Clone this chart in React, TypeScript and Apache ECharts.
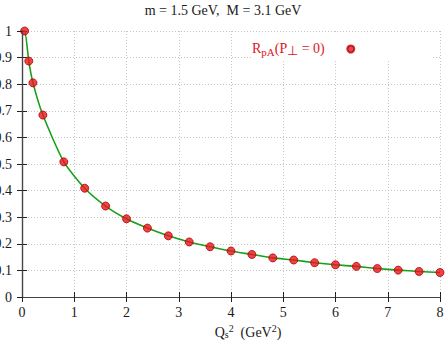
import React, { useEffect, useRef } from "react";
import * as echarts from "echarts";

const qs2 = [0.05, 0.13, 0.21, 0.4, 0.8, 1.2, 1.6, 2.0, 2.4, 2.8, 3.2, 3.6, 4.0, 4.4, 4.8, 5.2, 5.6, 6.0, 6.4, 6.8, 7.2, 7.6, 8.0];
const rpa = [1.0, 0.887, 0.805, 0.684, 0.508, 0.409, 0.342, 0.294, 0.259, 0.23, 0.207, 0.189, 0.173, 0.16, 0.147, 0.139, 0.129, 0.121, 0.115, 0.107, 0.101, 0.096, 0.092];
const curveStartX = [0];
const curveStartY = [1.0];

const FONT = "Liberation Serif, Times New Roman, serif";
const TITLE = "m = 1.5 GeV,\u00a0\u00a0M = 3.1 GeV";
const SERIES_NAME = "RpA";

export default function App() {
  const ref = useRef<HTMLDivElement>(null);
  useEffect(() => {
    if (!ref.current) return;
    const chart = echarts.init(ref.current, undefined, { renderer: "svg" });
    const points = qs2.map((x, i) => [x, rpa[i]]);
    const curve = curveStartX.map((x, i) => [x, curveStartY[i]]).concat(points);
    const labelStyle = { fontFamily: FONT, fontSize: 14, color: "#1a1a1a", fontWeight: "normal" as const };
    const axisCommon = {
      type: "value" as const,
      axisLine: { show: true, lineStyle: { color: "#444", width: 1.2 } },
      axisTick: { show: true, inside: true, length: 5, lineStyle: { color: "#222" } },
    };
    chart.setOption({
      animation: false,
      backgroundColor: "#fff",
      textStyle: { fontFamily: FONT },
      title: {
        text: TITLE,
        left: "center",
        top: 3,
        padding: [0, 0, 0, 16],
        textStyle: { fontFamily: FONT, fontSize: 14, fontWeight: "normal", color: "#1a1a1a" },
      },
      grid: { left: 22, right: 6, top: 31, bottom: 44, containLabel: false, outerBoundsMode: "none" },
      legend: {
        data: [SERIES_NAME],
        left: 252,
        top: 40,
        padding: 0,
        align: "right",
        itemWidth: 42,
        itemHeight: 7,
        formatter: () => "{r|R}{s|pA}{r|(P}{p|⊥}{r| = 0)}",
        textStyle: {
          color: "#e0141c",
          fontFamily: FONT,
          fontSize: 14,
          rich: {
            r: { fontFamily: FONT, fontSize: 14, color: "#e0141c", lineHeight: 16, verticalAlign: "top" },
            s: { fontFamily: FONT, fontSize: 11, color: "#e0141c", lineHeight: 16, verticalAlign: "bottom", padding: [6, 0, 0, 0] },
            p: { fontFamily: FONT, fontSize: 13, color: "#e0141c", lineHeight: 16, verticalAlign: "bottom", padding: [3, 0, 0, 0] },
          },
        },
      },
      graphic: [
        { type: "rect", z: 1, shape: { x: 253, y: 32, width: 180, height: 29 }, style: { fill: "#fff" } },
      ],
      xAxis: [
        {
          ...axisCommon,
          min: 0,
          max: 8,
          interval: 1,
          z: 0,
          axisLabel: { margin: 8, ...labelStyle },
          splitLine: { show: true, lineStyle: { color: "#c4c4c4", type: [1, 2], width: 1 } },
          name: "{t|Q}{s|s}{u|2}{t|\u00a0\u00a0(GeV}{u|2}{t|)}",
          nameLocation: "middle",
          nameGap: 26,
          nameTextStyle: {
            ...labelStyle,
            padding: [0, 0, 0, 34],
            rich: {
              t: { ...labelStyle, lineHeight: 16, verticalAlign: "bottom" },
              s: { ...labelStyle, fontSize: 10, lineHeight: 16, verticalAlign: "bottom", padding: [5, 0, 0, 0] },
              u: { ...labelStyle, fontSize: 10, lineHeight: 16, verticalAlign: "top", padding: [0, 0, 5, 0] },
            },
          },
        },
        {
          ...axisCommon,
          position: "top",
          min: 0,
          max: 8,
          interval: 1,
          z: 5,
          axisLabel: { show: false },
          splitLine: { show: false },
        },
      ],
      yAxis: [
        {
          ...axisCommon,
          min: 0,
          max: 1,
          interval: 0.1,
          z: 0,
          axisLabel: { margin: 10, ...labelStyle },
          splitLine: { show: true, lineStyle: { color: "#c4c4c4", type: [1, 2], width: 1 } },
        },
        {
          ...axisCommon,
          position: "right",
          min: 0,
          max: 1,
          interval: 0.1,
          z: 5,
          axisLabel: { show: false },
          splitLine: { show: false },
        },
      ],
      series: [
        {
          type: "line",
          name: "curve",
          data: curve,
          smooth: 0.2,
          showSymbol: false,
          z: 2,
          lineStyle: { color: "#19a019", width: 1.6 },
          itemStyle: { color: "#19a019" },
        },
        {
          type: "scatter",
          name: SERIES_NAME,
          data: points,
          symbol: "circle",
          symbolSize: 8,
          z: 3,
          itemStyle: { color: "#e8141c", borderColor: "#b40000", borderWidth: 1 },
        },
      ],
    });
    return () => chart.dispose();
  }, []);
  return <div ref={ref} style={{ position: "fixed", left: 0, top: 0, width: 446, height: 341 }} />;
}
